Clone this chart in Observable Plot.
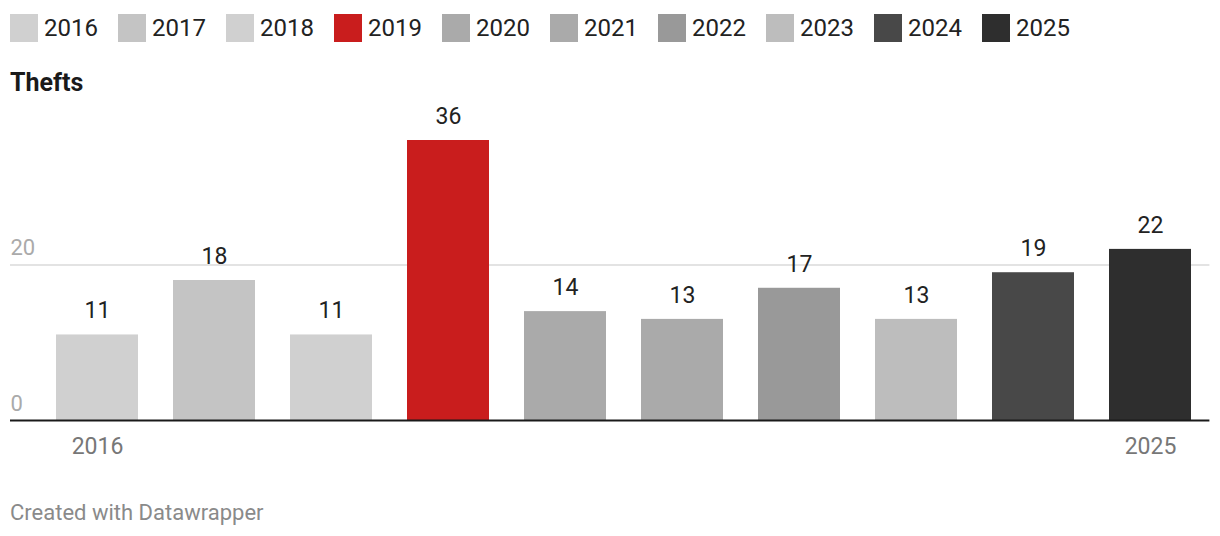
<!DOCTYPE html>
<html>
<head>
<meta charset="utf-8">
<script src="https://cdn.jsdelivr.net/npm/d3@7"></script>
<script src="https://cdn.jsdelivr.net/npm/@observablehq/plot@0.6"></script>
<style>
  html, body { margin: 0; padding: 0; background: #fff; }
  body { width: 1220px; height: 536px; overflow: hidden; font-family: Roboto, "Noto Sans", sans-serif; position: relative; }
  #legend { position: absolute; left: 10px; top: 14px; height: 28px; display: flex; }
  .item { display: flex; align-items: center; width: 108px; height: 28px; }
  .sw { width: 28px; height: 28px; flex: none; }
  .lab { font-size: 24px; color: #222; margin-left: 6px; line-height: 28px; }
  #title { position: absolute; left: 10px; top: 68px; font-size: 25px; font-weight: 700; color: #1a1a1a; }
  #chart { position: absolute; left: 0; top: 100px; }
  #caption { position: absolute; left: 10px; top: 500px; font-size: 22px; color: #8a8a8a; }
</style>
</head>
<body>
<div id="legend"></div>
<div id="title">Thefts</div>
<div id="chart"></div>
<div id="caption">Created with Datawrapper</div>
<script>
const years = ["2016","2017","2018","2019","2020","2021","2022","2023","2024","2025"];
const thefts = [11, 18, 11, 36, 14, 13, 17, 13, 19, 22];
const colors = ["#d0d0d0","#c4c4c4","#d0d0d0","#c91d1d","#aaaaaa","#aaaaaa","#999999","#bdbdbd","#484848","#2e2e2e"];
const yTicks = [0, 20];
const xTickLabels = ["2016", "2025"];

const data = years.map((y, i) => ({year: y, value: thefts[i], color: colors[i]}));

// legend
const legend = document.getElementById("legend");
years.forEach((y, i) => {
  const it = document.createElement("div");
  it.className = "item";
  it.innerHTML = `<span class="sw" style="background:${colors[i]}"></span><span class="lab">${y}</span>`;
  legend.appendChild(it);
});

const chart = Plot.plot({
  width: 1220,
  height: 370,
  marginLeft: 37.4,
  marginRight: 10.6,
  marginTop: 40,
  marginBottom: 50,
  style: {fontFamily: "Roboto, sans-serif", background: "#fff"},
  x: {type: "band", domain: years, paddingInner: 0.3, paddingOuter: 0.15, axis: null},
  y: {domain: [0, 36], axis: null},
  marks: [
    Plot.ruleY(yTicks.filter(d => d !== 0), {stroke: "#e3e3e3", strokeWidth: 2, insetLeft: -27.4}),
    Plot.barY(data, {x: "year", y: "value", fill: "color"}),
    Plot.ruleY([0], {stroke: "#1a1a1a", strokeWidth: 2, insetLeft: -27.4}),
    Plot.text(yTicks, {y: d => d, frameAnchor: "left", dx: -27.4, dy: -17, text: d => String(d), textAnchor: "start", fill: "#aaaaaa", fontSize: 22}),
    Plot.text(data, {x: "year", y: "value", text: d => String(d.value), dy: -24, fill: "#222", fontSize: 23}),
    Plot.text(data.filter(d => xTickLabels.includes(d.year)), {x: "year", y: 0, text: "year", dy: 26, fill: "#777", fontSize: 23})
  ]
});
document.getElementById("chart").appendChild(chart);
</script>
</body>
</html>
